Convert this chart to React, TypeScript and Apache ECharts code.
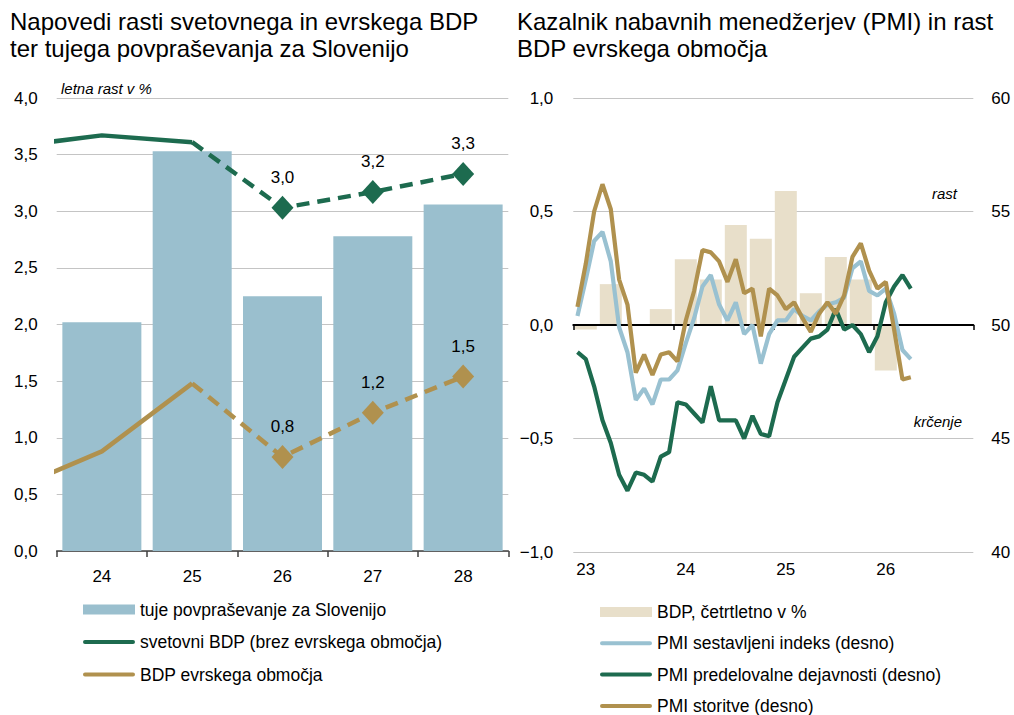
import React, { useEffect, useRef } from 'react';
import * as echarts from 'echarts';

// ---------- Left chart data ----------
const leftCategories = ['24', '25', '26', '27', '28'];
const foreignDemand = [2.02, 3.53, 2.25, 2.78, 3.06];
const lineYears = [23, 24, 25, 26, 27, 28];
const worldGdp = [3.57, 3.67, 3.61, 3.03, 3.17, 3.33];
const euroGdp = [0.54, 0.88, 1.48, 0.83, 1.22, 1.54];
const lastActualYear = 25;

// ---------- Right chart data ----------
// quarterly GDP, Q1 2023 .. Q1 2026 (%)
const quarterlyGdp = [-0.02, 0.18, 0.0, 0.07, 0.29, 0.2, 0.44, 0.38, 0.59, 0.14, 0.3, 0.2, -0.2];
// monthly PMI, Jan 2023 .. May 2026
const pmiComposite = [
  50.4, 52.0, 53.7, 54.1, 52.8, 49.9, 48.8, 46.7, 47.2, 46.5, 47.6, 47.6,
  48.0, 49.2, 50.3, 51.7, 52.2, 50.9, 50.2, 51.0, 49.6, 50.0, 48.3, 49.6,
  50.2, 50.2, 50.7, 50.4, 50.2, 50.6, 50.9, 51.0, 51.2, 52.5, 52.8, 51.5,
  51.3, 51.6, 50.5, 48.9, 48.5,
];
const pmiManufacturing = [
  48.8, 48.5, 47.3, 45.8, 44.8, 43.4, 42.7, 43.5, 43.4, 43.1, 44.2, 44.4,
  46.6, 46.5, 46.1, 45.7, 47.3, 45.8, 45.8, 45.8, 45.0, 46.0, 45.2, 45.1,
  46.6, 47.6, 48.6, 49.0, 49.4, 49.5, 49.8, 50.7, 49.8, 50.0, 49.6, 48.8,
  49.5, 51.0, 51.7, 52.2, 51.6,
];
const pmiServices = [
  50.8, 52.7, 55.0, 56.2, 55.1, 52.0, 50.9, 47.9, 48.7, 47.8, 48.7, 48.8,
  48.4, 50.2, 51.5, 53.3, 53.2, 52.8, 51.9, 52.9, 51.4, 51.6, 49.5, 51.6,
  51.3, 50.7, 51.0, 50.3, 49.7, 50.5, 51.0, 50.5, 51.3, 53.0, 53.6, 52.4,
  51.6, 51.9, 49.8, 47.6, 47.7,
];
const firstYear = 23;

const leftTitle = 'Napovedi rasti svetovnega in evrskega BDP\nter tujega povpraševanja za Slovenijo';
const rightTitle = 'Kazalnik nabavnih menedžerjev (PMI) in rast\nBDP evrskega območja';

const C_BAR = '#9abfce';
const C_GREEN = '#1d6b4f';
const C_GOLD = '#b0914e';
const C_BEIGE = '#e8dfca';
const C_BLUE = '#99c1d1';
const FONT = '"Liberation Sans", Arial, sans-serif';
const NARROW = '"Liberation Sans Narrow", "Arial Narrow", "Liberation Sans", Arial, sans-serif';

const fmt = (v: number) => v.toFixed(1).replace('.', ',').replace('-', '\u2212');

const LINE_ICON =
  'path://M0,0h0.01v0.01h-0.01zM52,10h-0.01v-0.01h0.01zM2,3H50A2,2,0,0,1,50,7H2A2,2,0,0,1,2,3z';

function splitSeries(vals: number[]) {
  const pts = lineYears.map((y, i) => [y, vals[i]]);
  const solid = pts.filter((p) => p[0] <= lastActualYear);
  const fc = pts
    .filter((p) => p[0] >= lastActualYear)
    .map((p) =>
      p[0] === lastActualYear
        ? { value: p, symbol: 'none', label: { show: false } }
        : { value: p }
    );
  return { solid, fc };
}

export default function App() {
  const ref = useRef<HTMLDivElement>(null);
  useEffect(() => {
    document.body.style.margin = '0';
    if (!ref.current) return;
    const chart = echarts.init(ref.current, undefined, { renderer: 'svg' });
    const w = splitSeries(worldGdp);
    const e = splitSeries(euroGdp);
    const axisLabelBase = { color: '#000', fontSize: 17, fontFamily: FONT };
    const dashedLabel = {
      show: true,
      position: 'top',
      distance: 10,
      color: '#000',
      fontSize: 17,
      fontFamily: NARROW,
      formatter: (p: any) => fmt(p.value[1]),
    };
    const lineName1 = 'svetovni BDP (brez evrskega območja)';
    const lineName2 = 'BDP evrskega območja';
    const barName = 'tuje povpraševanje za Slovenijo';
    const rBar = 'BDP, četrtletno v %';
    const rComp = 'PMI sestavljeni indeks (desno)';
    const rMan = 'PMI predelovalne dejavnosti (desno)';
    const rSer = 'PMI storitve (desno)';
    const LW = 4.5;
    const RW = 4.2;

    const option: any = {
      animation: false,
      textStyle: { fontFamily: FONT },
      grid: [
        { left: 56.7, top: 98, width: 451.6, height: 453, outerBoundsMode: 'none' },
        { left: 573.3, top: 98, width: 400, height: 454, outerBoundsMode: 'none' },
      ],
      xAxis: [
        {
          type: 'category',
          gridIndex: 0,
          data: leftCategories,
          position: 'bottom',
          axisLine: { onZero: false, lineStyle: { color: '#404040', width: 1.5 } },
          axisTick: { show: true, length: 6, lineStyle: { color: '#404040', width: 1.5 } },
          axisLabel: { ...axisLabelBase, margin: 17 },
          splitLine: { show: false },
        },
        {
          type: 'value',
          gridIndex: 0,
          min: 23.5,
          max: 28.5,
          position: 'top',
          show: false,
          axisLine: { onZero: false },
          splitLine: { show: false },
        },
        {
          type: 'value',
          gridIndex: 1,
          min: 0,
          max: 48,
          interval: 12,
          position: 'bottom',
          axisLine: { show: false, onZero: false },
          axisTick: { show: false },
          splitLine: { show: false },
          axisLabel: {
            ...axisLabelBase,
            margin: 9,
            align: 'left',
            padding: [0, 0, 0, 3],
            formatter: (v: number) => (v < 48 ? String(firstYear + v / 12) : ''),
          },
        },
        {
          type: 'value',
          gridIndex: 1,
          min: 0,
          max: 48,
          interval: 12,
          position: 'bottom',
          z: 1,
          axisLine: { show: true, onZero: true, lineStyle: { color: '#000', width: 2 } },
          axisTick: { show: true, length: 5, lineStyle: { color: '#000', width: 1.5 } },
          axisLabel: { show: false },
          splitLine: { show: false },
        },
      ],
      yAxis: [
        {
          type: 'value',
          gridIndex: 0,
          min: 0,
          max: 4,
          interval: 0.5,
          axisLine: { show: false, onZero: false },
          axisTick: { show: false },
          axisLabel: { ...axisLabelBase, margin: 19, formatter: fmt },
          splitLine: { show: true, lineStyle: { color: '#c4c4c4', width: 1.2 } },
        },
        {
          type: 'value',
          gridIndex: 1,
          min: -1,
          max: 1,
          interval: 0.5,
          position: 'left',
          axisLine: { show: false, onZero: false },
          axisTick: { show: false },
          axisLabel: { ...axisLabelBase, margin: 20, formatter: fmt },
          splitLine: { show: true, lineStyle: { color: '#c4c4c4', width: 1.2 } },
        },
        {
          type: 'value',
          gridIndex: 1,
          min: 40,
          max: 60,
          interval: 5,
          position: 'right',
          axisLine: { show: false, onZero: false },
          axisTick: { show: false },
          axisLabel: { ...axisLabelBase, margin: 18 },
          splitLine: { show: false },
        },
      ],
      legend: [
        {
          orient: 'vertical',
          left: 83,
          top: 600.5,
          padding: 0,
          itemWidth: 52,
          itemHeight: 10,
          itemGap: 14.5,
          selectedMode: false,
          itemStyle: { borderWidth: 0 },
          textStyle: { color: '#000', fontSize: 17.5, fontFamily: FONT },
          data: [
            { name: barName, icon: 'rect' },
            { name: lineName1, icon: LINE_ICON },
            { name: lineName2, icon: LINE_ICON },
          ],
        },
        {
          orient: 'vertical',
          left: 600,
          top: 603,
          padding: 0,
          itemWidth: 52,
          itemHeight: 10,
          itemGap: 13.3,
          selectedMode: false,
          itemStyle: { borderWidth: 0 },
          textStyle: { color: '#000', fontSize: 17.5, fontFamily: FONT },
          data: [
            { name: rBar, icon: 'rect' },
            { name: rComp, icon: LINE_ICON },
            { name: rMan, icon: LINE_ICON },
            { name: rSer, icon: LINE_ICON },
          ],
        },
      ],
      series: [
        {
          name: barName,
          type: 'bar',
          xAxisIndex: 0,
          yAxisIndex: 0,
          data: foreignDemand,
          barWidth: 79,
          color: C_BAR,
          itemStyle: { color: C_BAR },
        },
        {
          name: lineName1,
          type: 'line',
          xAxisIndex: 1,
          yAxisIndex: 0,
          data: w.solid,
          symbol: 'none',
          color: C_GREEN,
          lineStyle: { color: C_GREEN, width: LW },
          z: 3,
        },
        {
          name: lineName1,
          type: 'line',
          xAxisIndex: 1,
          yAxisIndex: 0,
          data: w.fc,
          symbol: 'diamond',
          symbolSize: [22, 24],
          showSymbol: true,
          color: C_GREEN,
          itemStyle: { color: C_GREEN, borderWidth: 0 },
          lineStyle: { color: C_GREEN, width: LW, type: [13, 8] },
          label: dashedLabel,
          z: 3,
        },
        {
          name: lineName2,
          type: 'line',
          xAxisIndex: 1,
          yAxisIndex: 0,
          data: e.solid,
          symbol: 'none',
          color: C_GOLD,
          lineStyle: { color: C_GOLD, width: LW },
          z: 3,
        },
        {
          name: lineName2,
          type: 'line',
          xAxisIndex: 1,
          yAxisIndex: 0,
          data: e.fc,
          symbol: 'diamond',
          symbolSize: [22, 24],
          showSymbol: true,
          color: C_GOLD,
          itemStyle: { color: C_GOLD, borderWidth: 0 },
          lineStyle: { color: C_GOLD, width: LW, type: [13, 8] },
          label: dashedLabel,
          z: 3,
        },
        {
          name: rBar,
          type: 'bar',
          xAxisIndex: 2,
          yAxisIndex: 1,
          data: quarterlyGdp.map((v, q) => [q * 3 + 1.5, v]),
          barWidth: 22,
          color: C_BEIGE,
          itemStyle: { color: C_BEIGE },
          z: 0,
        },
        {
          name: rComp,
          type: 'line',
          xAxisIndex: 2,
          yAxisIndex: 2,
          data: pmiComposite.map((v, i) => [i + 0.5, v]),
          symbol: 'none',
          color: C_BLUE,
          lineStyle: { color: C_BLUE, width: RW },
          z: 3,
        },
        {
          name: rMan,
          type: 'line',
          xAxisIndex: 2,
          yAxisIndex: 2,
          data: pmiManufacturing.map((v, i) => [i + 0.5, v]),
          symbol: 'none',
          color: C_GREEN,
          lineStyle: { color: C_GREEN, width: RW },
          z: 3,
        },
        {
          name: rSer,
          type: 'line',
          xAxisIndex: 2,
          yAxisIndex: 2,
          data: pmiServices.map((v, i) => [i + 0.5, v]),
          symbol: 'none',
          color: C_GOLD,
          lineStyle: { color: C_GOLD, width: RW },
          z: 3,
        },
      ],
      graphic: [
        {
          type: 'text',
          x: 10,
          y: 8,
          style: { text: leftTitle, fontSize: 24, fontFamily: FONT, fill: '#000', lineHeight: 27, verticalAlign: 'top' },
        },
        {
          type: 'text',
          x: 517,
          y: 8,
          style: { text: rightTitle, fontSize: 24, fontFamily: FONT, fill: '#000', lineHeight: 27, verticalAlign: 'top' },
        },
        {
          type: 'text',
          x: 61,
          y: 88,
          style: { text: 'letna rast v %', fontSize: 15, fontStyle: 'italic', fontFamily: FONT, fill: '#000', verticalAlign: 'middle' },
        },
        {
          type: 'text',
          x: 957,
          y: 193,
          style: { text: 'rast', fontSize: 15, fontStyle: 'italic', fontFamily: FONT, fill: '#000', align: 'right', verticalAlign: 'middle' },
        },
        {
          type: 'text',
          x: 962,
          y: 421,
          style: { text: 'krčenje', fontSize: 15, fontStyle: 'italic', fontFamily: FONT, fill: '#000', align: 'right', verticalAlign: 'middle' },
        },
      ],
    };
    chart.setOption(option);
    return () => chart.dispose();
  }, []);
  return <div ref={ref} style={{ width: 1014, height: 715 }} />;
}
